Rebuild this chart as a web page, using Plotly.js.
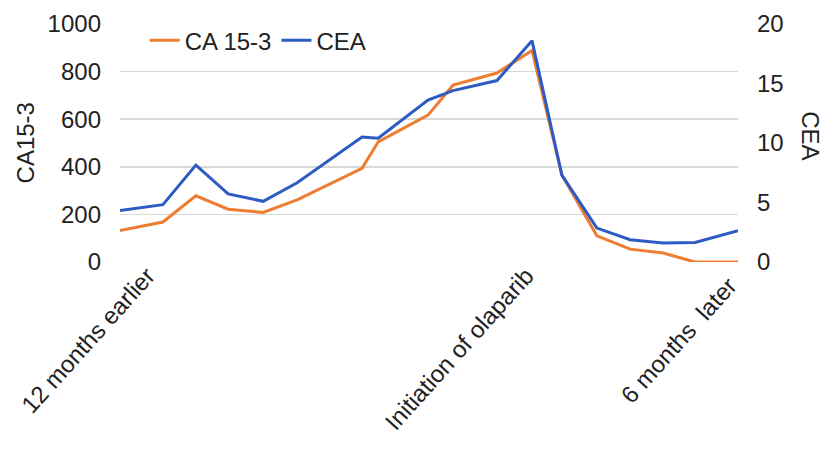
<!DOCTYPE html>
<html>
<head>
<meta charset="utf-8">
<script src="https://cdn.plot.ly/plotly-3.0.1.min.js"></script>
<style>
html,body{margin:0;padding:0;background:#fff;}
#chart{width:824px;height:449px;}
</style>
</head>
<body>
<div id="chart"></div>
<script>
// months relative to the initiation of olaparib
const months = [-12, -10.75, -9.79, -8.85, -7.83, -6.84, -4.95, -4.48, -3.03, -2.30, -1.02, 0, 0.87, 1.89, 2.86, 3.82, 4.75, 6];
const ca153 = [132, 168, 278, 222, 208, 261, 394, 505, 617, 743, 794, 889, 366, 110, 54, 38, 0, 0];
const cea = [4.32, 4.82, 8.14, 5.72, 5.10, 6.66, 10.5, 10.4, 13.6, 14.4, 15.25, 18.6, 7.3, 2.85, 1.87, 1.59, 1.64, 2.62];

const tickPos = [-11.2, -0.17, 6];
const tickText = ['12 months earlier', 'Initiation of olaparib', '6 months\u00a0 later\u00a0\u00a0'];

const FONT = 'Liberation Sans, Arial, sans-serif';
const TXT = '#222222';

const traces = [
  {x: months, y: ca153, name: 'CA 15-3', type: 'scatter', mode: 'lines', yaxis: 'y',
   line: {color: '#ED7D31', width: 3}},
  {x: months, y: cea, name: 'CEA', type: 'scatter', mode: 'lines', yaxis: 'y2',
   line: {color: '#2C5BC4', width: 3}}
];

const layout = {
  width: 824, height: 449,
  margin: {l: 120, r: 86, t: 24, b: 187},
  paper_bgcolor: '#fff', plot_bgcolor: '#fff',
  font: {family: FONT, size: 24, color: TXT},
  showlegend: true,
  legend: {orientation: 'h', x: 0.04, y: 1.025, xanchor: 'left', yanchor: 'top',
           bgcolor: 'rgba(0,0,0,0)', font: {family: FONT, size: 24, color: TXT}},
  xaxis: {range: [-12, 6], tickvals: tickPos, ticktext: tickText, tickangle: -48,
          showgrid: false, zeroline: false, showline: false, ticks: '', ticklabelstandoff: -6,
          tickfont: {family: FONT, size: 24, color: TXT}},
  yaxis: {range: [0, 1000], tickvals: [0, 200, 400, 600, 800, 1000],
          showgrid: true, gridcolor: '#d9d9d9', gridwidth: 1.5, zeroline: false, showline: false,
          ticks: '', ticklabelstandoff: 18, tickfont: {family: FONT, size: 24, color: TXT}},
  yaxis2: {range: [0, 20], tickvals: [0, 5, 10, 15, 20], overlaying: 'y', side: 'right',
           showgrid: false, zeroline: false, showline: false, ticks: '', ticklabelstandoff: 18,
           tickfont: {family: FONT, size: 24, color: TXT}},
  annotations: [
    {text: 'CA15-3', xref: 'paper', yref: 'paper', x: -0.153, y: 0.5, xanchor: 'center', yanchor: 'middle',
     textangle: -90, showarrow: false, font: {family: FONT, size: 24, color: TXT}},
    {text: 'CEA', xref: 'paper', yref: 'paper', x: 1.116, y: 0.53, xanchor: 'center', yanchor: 'middle',
     textangle: 90, showarrow: false, font: {family: FONT, size: 24, color: TXT}}
  ]
};

Plotly.newPlot('chart', traces, layout, {displayModeBar: false, staticPlot: true});
</script>
</body>
</html>
